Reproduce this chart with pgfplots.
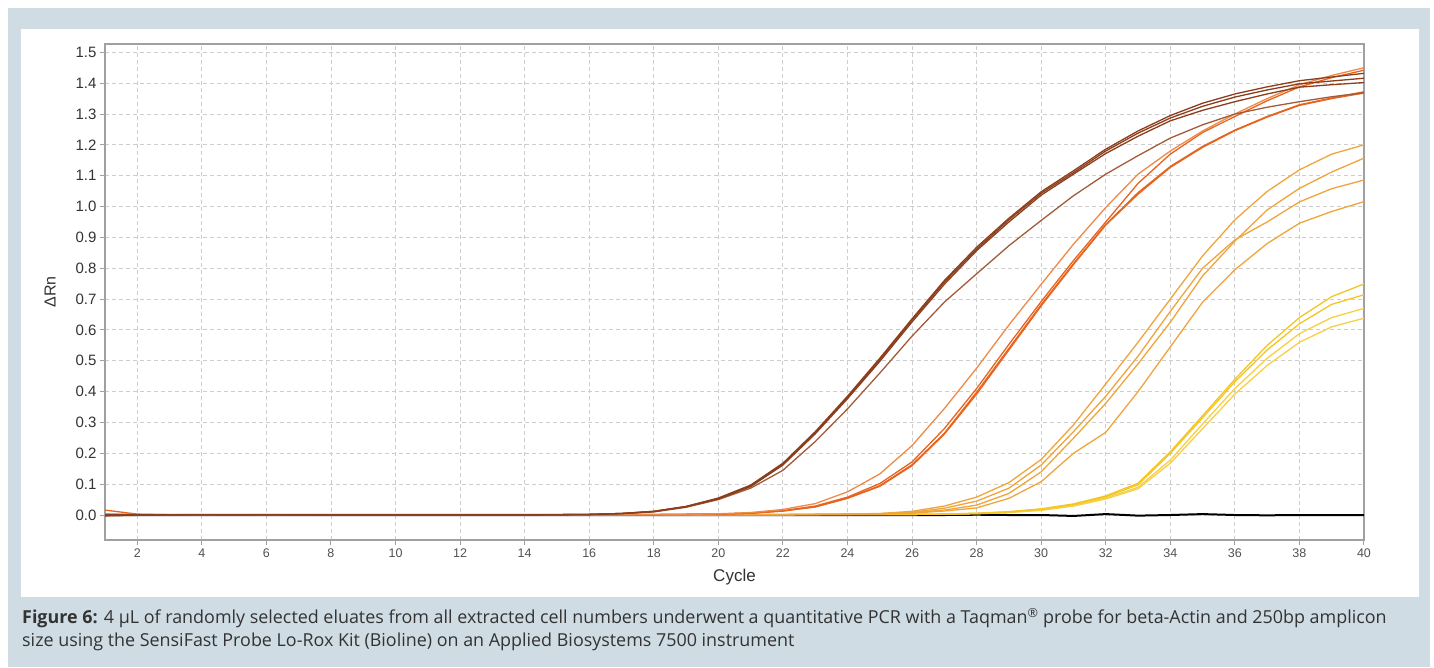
\documentclass[border=0pt]{standalone}
\usepackage{fontspec}
\setmainfont{Liberation Sans}
\newfontfamily\capfont{Open Sans}
\usepackage{pgfplots}
\usepackage{pgfplotstable}
\pgfplotsset{compat=1.18}

\definecolor{bgblue}{HTML}{CFDCE4}
\definecolor{brownA}{HTML}{8C3E1C}
\definecolor{brownB}{HTML}{A25C3A}
\definecolor{orangeE}{HTML}{EE8A48}
\definecolor{orangeF}{HTML}{E8641E}
\definecolor{lorange}{HTML}{F0A53C}
\definecolor{yelA}{HTML}{F5C523}
\definecolor{yelB}{HTML}{F6D046}
\definecolor{txt}{HTML}{333333}
\definecolor{gridc}{HTML}{CDCDCD}
\definecolor{axc}{HTML}{A0A0A0}

\pgfplotstableread{
c  b1     b2     b3     b4     oE     oF     oG     oH     l1     l2     l3     l4     y1     y2     y3     y4     k
1  -0.002 0.000  0.001  -0.003 0.004  0.002  0.001  0.016  0.001  0.000  0.002  -0.001 0.002  0.001  0.003  0.002  0.000
2  0.000  0.001  0.000  -0.001 0.001  0.001  0.000  0.003  0.001  0.001  0.001  0.000  0.002  0.001  0.002  0.002  0.000
3  0.000  0.001  0.001  0.000  0.001  0.000  0.000  0.001  0.001  0.001  0.001  0.000  0.002  0.001  0.002  0.002  0.000
4  0.001  0.001  0.001  0.000  0.001  0.000  0.000  0.001  0.001  0.001  0.001  0.001  0.002  0.002  0.002  0.002  0.000
5  0.001  0.001  0.000  0.000  0.001  0.000  0.000  0.000  0.001  0.001  0.001  0.001  0.002  0.002  0.002  0.002  0.000
6  0.001  0.001  0.001  0.000  0.001  0.000  0.000  0.000  0.001  0.001  0.001  0.001  0.002  0.002  0.002  0.002  0.000
7  0.000  0.001  0.000  0.000  0.001  0.000  0.000  0.000  0.001  0.001  0.001  0.001  0.002  0.002  0.002  0.002  0.000
8  0.000  0.000  0.000  0.000  0.001  0.000  0.000  0.000  0.001  0.001  0.001  0.001  0.002  0.002  0.002  0.002  0.000
9  0.000  0.000  0.000  0.000  0.001  0.000  0.000  0.000  0.001  0.001  0.001  0.001  0.002  0.002  0.002  0.002  0.000
10 0.000  0.000  0.000  0.000  0.001  0.000  0.000  0.000  0.001  0.001  0.001  0.001  0.002  0.002  0.002  0.002  0.000
11 0.000  0.000  0.000  0.000  0.001  0.000  0.000  0.000  0.001  0.001  0.001  0.001  0.002  0.002  0.002  0.002  0.000
12 0.000  0.000  0.000  0.000  0.001  0.000  0.000  0.000  0.001  0.001  0.001  0.001  0.002  0.002  0.002  0.002  0.000
13 0.000  0.000  0.000  0.000  0.001  0.000  0.000  0.000  0.001  0.001  0.001  0.001  0.002  0.002  0.002  0.002  0.000
14 0.000  0.000  0.000  0.000  0.001  0.000  0.000  0.000  0.001  0.001  0.001  0.001  0.002  0.002  0.002  0.002  0.000
15 0.001  0.001  0.001  0.000  0.001  0.000  0.000  0.000  0.001  0.001  0.001  0.001  0.002  0.002  0.002  0.002  0.000
16 0.002  0.002  0.002  0.001  0.001  0.001  0.000  0.000  0.001  0.001  0.001  0.001  0.002  0.002  0.002  0.002  0.000
17 0.005  0.005  0.005  0.004  0.001  0.001  0.001  0.001  0.001  0.001  0.001  0.001  0.002  0.002  0.002  0.002  0.000
18 0.012  0.012  0.011  0.010  0.002  0.001  0.001  0.001  0.001  0.001  0.001  0.001  0.002  0.002  0.002  0.002  0.000
19 0.028  0.027  0.027  0.025  0.002  0.002  0.002  0.002  0.001  0.001  0.001  0.001  0.002  0.002  0.002  0.002  0.000
20 0.055  0.054  0.052  0.050  0.004  0.003  0.003  0.003  0.001  0.001  0.001  0.001  0.002  0.002  0.002  0.002  0.000
21 0.097  0.095  0.092  0.087  0.008  0.006  0.006  0.006  0.001  0.001  0.001  0.001  0.002  0.002  0.002  0.002  0.000
22 0.168  0.165  0.162  0.145  0.018  0.014  0.013  0.013  0.001  0.001  0.001  0.001  0.002  0.002  0.002  0.002  0.000
23 0.270  0.267  0.263  0.238  0.037  0.029  0.027  0.026  0.002  0.002  0.002  0.002  0.002  0.002  0.002  0.002  0.000
24 0.385  0.381  0.377  0.344  0.075  0.058  0.055  0.054  0.003  0.003  0.003  0.002  0.002  0.002  0.002  0.002  0.000
25 0.508  0.503  0.498  0.460  0.133  0.102  0.095  0.093  0.005  0.004  0.004  0.003  0.002  0.002  0.002  0.002  0.000
26 0.636  0.632  0.626  0.580  0.225  0.172  0.163  0.160  0.012  0.008  0.009  0.006  0.002  0.002  0.002  0.002  0.000
27 0.760  0.755  0.748  0.690  0.345  0.280  0.265  0.262  0.029  0.016  0.022  0.013  0.003  0.003  0.003  0.003  0.000
28 0.868  0.862  0.857  0.782  0.476  0.410  0.398  0.392  0.058  0.032  0.045  0.023  0.006  0.005  0.005  0.004  0.001
29 0.962  0.957  0.950  0.873  0.616  0.553  0.540  0.535  0.105  0.070  0.087  0.054  0.011  0.010  0.009  0.008  0.000
30 1.048  1.043  1.037  0.955  0.748  0.692  0.682  0.678  0.180  0.140  0.162  0.108  0.020  0.019  0.017  0.015  0.000
31 1.116  1.110  1.105  1.035  0.878  0.825  0.815  0.812  0.292  0.249  0.270  0.200  0.036  0.034  0.031  0.029  -0.003
32 1.186  1.180  1.172  1.105  0.997  0.950  0.942  0.940  0.425  0.362  0.385  0.268  0.062  0.059  0.055  0.052  0.003
33 1.245  1.238  1.228  1.165  1.105  1.075  1.045  1.040  0.560  0.490  0.515  0.400  0.103  0.098  0.090  0.085  -0.002
34 1.295  1.287  1.278  1.222  1.180  1.170  1.130  1.127  0.700  0.625  0.660  0.545  0.205  0.200  0.178  0.168  0.000
35 1.335  1.325  1.312  1.265  1.245  1.240  1.195  1.192  0.840  0.775  0.800  0.690  0.322  0.315  0.295  0.280  0.003
36 1.365  1.355  1.340  1.300  1.300  1.292  1.248  1.246  0.957  0.888  0.892  0.795  0.440  0.432  0.410  0.392  0.000
37 1.388  1.378  1.365  1.322  1.350  1.343  1.292  1.290  1.049  0.989  0.950  0.880  0.550  0.535  0.508  0.485  -0.001
38 1.408  1.398  1.387  1.340  1.395  1.388  1.330  1.328  1.119  1.059  1.015  0.946  0.640  0.620  0.588  0.560  0.000
39 1.420  1.407  1.395  1.356  1.425  1.418  1.352  1.350  1.170  1.112  1.058  0.984  0.708  0.683  0.640  0.610  0.000
40 1.432  1.416  1.402  1.369  1.450  1.442  1.372  1.368  1.200  1.157  1.086  1.016  0.749  0.714  0.670  0.638  0.000
}\qpcr

\begin{document}
\begin{tikzpicture}[x=1pt,y=1pt]
\useasboundingbox (0,0) rectangle (1434,667);
\fill[white] (0,0) rectangle (1434,667);
\fill[bgblue] (8,0) rectangle (1430,659);
\fill[white] (21,70) rectangle (1419,638);
\begin{axis}[
  at={(105pt,127pt)}, anchor=south west,
  scale only axis, width=1259pt, height=496pt,
  xmin=1, xmax=40, ymin=-0.081, ymax=1.527,
  xtick={2,4,...,40},
  ytick={0,0.1,0.2,0.3,0.4,0.5,0.6,0.7,0.8,0.9,1.0,1.1,1.2,1.3,1.4,1.5},
  tick pos=left, tick align=outside,
  major tick length=5pt,
  tick style={axc, line width=1pt},
  axis line style={axc, line width=1.5pt},
  grid=major,
  major grid style={gridc, line width=0.9pt, dash pattern=on 4pt off 3pt},
  /pgf/number format/assume math mode=true,
  yticklabel style={font=\fontsize{15}{15}\selectfont, text=txt,
     /pgf/number format/.cd, fixed, fixed zerofill, precision=1},
  xticklabel style={font=\fontsize{12.5}{12.5}\selectfont, text=txt!85},
  xlabel={Cycle}, ylabel={ΔRn},
  xlabel style={font=\fontsize{17}{17}\selectfont, text=txt, at={(axis description cs:0.5,-0.075)}, anchor=center},
  ylabel style={font=\fontsize{16}{16}\selectfont, text=txt},
  ylabel shift=13pt,
  every axis plot/.append style={line width=1.3pt, line join=round},
]
\addplot[black, line width=2pt] table[x=c, y=k] {\qpcr};
\addplot[yelB] table[x=c, y=y4] {\qpcr};
\addplot[yelB] table[x=c, y=y3] {\qpcr};
\addplot[yelA] table[x=c, y=y2] {\qpcr};
\addplot[yelA] table[x=c, y=y1] {\qpcr};
\addplot[lorange] table[x=c, y=l4] {\qpcr};
\addplot[lorange] table[x=c, y=l3] {\qpcr};
\addplot[lorange] table[x=c, y=l2] {\qpcr};
\addplot[lorange] table[x=c, y=l1] {\qpcr};
\addplot[orangeF] table[x=c, y=oH] {\qpcr};
\addplot[orangeF] table[x=c, y=oG] {\qpcr};
\addplot[orangeF] table[x=c, y=oF] {\qpcr};
\addplot[orangeE] table[x=c, y=oE] {\qpcr};
\addplot[brownB] table[x=c, y=b4] {\qpcr};
\addplot[brownA] table[x=c, y=b3] {\qpcr};
\addplot[brownA] table[x=c, y=b2] {\qpcr};
\addplot[brownA] table[x=c, y=b1] {\qpcr};
\end{axis}
\node[anchor=base west, text=txt, inner sep=0pt, font=\capfont\fontsize{17.9}{17.9}\selectfont] at (22,43.5)
  {\textbf{Figure 6:} 4 µL of randomly selected eluates from all extracted cell numbers underwent a quantitative PCR with a Taqman\textsuperscript{®} probe for beta-Actin and 250bp amplicon};
\node[anchor=base west, text=txt, inner sep=0pt, font=\capfont\fontsize{17.9}{17.9}\selectfont] at (22,21)
  {size using the SensiFast Probe Lo-Rox Kit (Bioline) on an Applied Biosystems 7500 instrument};
\end{tikzpicture}
\end{document}
